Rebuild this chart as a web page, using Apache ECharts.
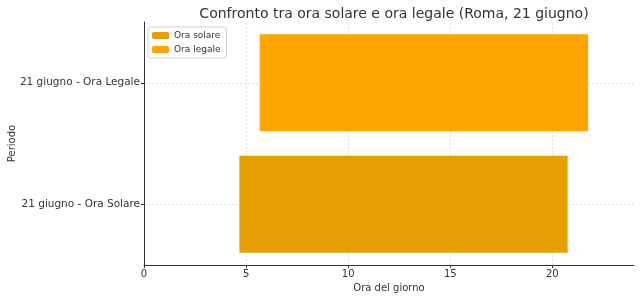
<!DOCTYPE html>
<html><head><meta charset="utf-8">
<script src="https://cdn.jsdelivr.net/npm/echarts@6/dist/echarts.min.js"></script>
<style>html,body{margin:0;padding:0;background:#fff}#c{width:640px;height:299px}</style>
</head><body><div id="c"></div>
<script>
var categories = ['21 giugno - Ora Solare', '21 giugno - Ora Legale'];
var seriesNames = ['Ora solare', 'Ora legale'];
var startHours = [4.67, 5.67];
var endHours = [20.75, 21.75];
var xTicks = [0, 5, 10, 15, 20];
var colors = ['#E69F00', '#FFA500'];

var F = 'DejaVu Sans';
var chart = echarts.init(document.getElementById('c'), null, {renderer: 'canvas'});
var dur = endHours.map(function (e, i) { return +(e - startHours[i]).toFixed(2); });
var series = [{
  name: '_base', type: 'bar', stack: 's', silent: true, z: 5,
  itemStyle: {color: 'transparent'}, data: startHours.slice(), barCategoryGap: '20%'
}];
seriesNames.forEach(function (n, k) {
  series.push({
    name: n, type: 'bar', stack: 's', barCategoryGap: '20%', z: 5,
    itemStyle: {color: colors[k]},
    data: categories.map(function (c, i) { return i === k ? dur[i] : '-'; })
  });
});
var gridStyle = {color: '#e0e0e0', type: [2, 2], width: 1};
series.push({
  type: 'line', data: [], z: 1, silent: true,
  markLine: {silent: true, z: 1, symbol: 'none', label: {show: false}, animation: false,
    lineStyle: gridStyle,
    data: categories.map(function (c) { return {yAxis: c}; })
      .concat(xTicks.filter(function (t) { return t > 0; }).map(function (t) { return {xAxis: t}; }))}
});
chart.setOption({
  animation: false,
  title: {text: 'Confronto tra ora solare e ora legale (Roma, 21 giugno)', left: 389, textAlign: 'center', top: 2,
    textStyle: {fontFamily: F, fontSize: 14, fontWeight: 'normal', color: '#333'}},
  legend: {data: seriesNames, orient: 'vertical', left: 148, top: 27, itemWidth: 17, itemHeight: 7, itemGap: 5,
    padding: [4, 6, 4, 4], borderColor: '#d0d0d0', borderWidth: 1, borderRadius: 2, backgroundColor: '#fff',
    textStyle: {fontFamily: F, fontSize: 9, color: '#333'}},
  grid: {left: 144, right: 6, top: 22, bottom: 34, containLabel: false, outerBoundsMode: 'none'},
  xAxis: {type: 'value', min: 0, max: 24, interval: 5, z: 6,
    name: 'Ora del giorno', nameLocation: 'middle', nameGap: 18, nameMoveOverlap: false,
    nameTextStyle: {fontFamily: F, fontSize: 10, color: '#333'},
    axisLine: {show: true, lineStyle: {color: '#333', width: 1}},
    axisTick: {show: true, length: 3, lineStyle: {color: '#333'}, customValues: xTicks},
    axisLabel: {fontFamily: F, fontSize: 10, color: '#333', margin: 4, customValues: xTicks},
    splitLine: {show: false}},
  yAxis: {type: 'category', data: categories, boundaryGap: true, z: 6,
    name: 'Periodo', nameLocation: 'middle', nameGap: 127, nameRotate: 90, nameMoveOverlap: false,
    nameTextStyle: {fontFamily: F, fontSize: 10, color: '#333'},
    axisLine: {show: true, lineStyle: {color: '#333', width: 1}},
    axisTick: {show: true, alignWithLabel: true, length: 3, lineStyle: {color: '#333'}},
    axisLabel: {fontFamily: F, fontSize: 10.5, color: '#333', margin: 4},
    splitLine: {show: false}},
  series: series
});
</script></body></html>
